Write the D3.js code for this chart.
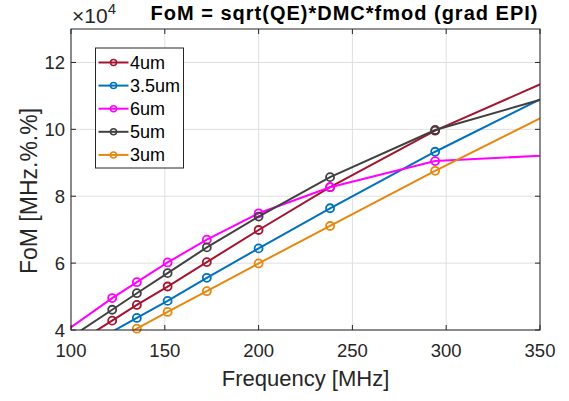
<!DOCTYPE html>
<html lang="en">
<head>
    <meta charset="UTF-8">
    <title>FoM vs Frequency</title>
    <style>
        body { margin: 0; background: #fff; }
        text { font-family: "Liberation Sans", Arial, sans-serif; fill: #262626; }
    </style>
</head>
<body>
<script src="https://d3js.org/d3.v7.min.js"></script>
<script>
    // frequencies in MHz (values in units of 1e4)
    var freq = [90.9, 121.95, 135.1, 151.5, 172.4, 200, 238.1, 294.1, 384.6];
    var fom4um = [3.18, 4.28, 4.75, 5.30, 6.03, 6.99, 8.27, 9.96, 12.2];
    var fom35um = [null, 3.95, 4.36, 4.87, 5.56, 6.44, 7.64, 9.33, 11.87];
    var fom6um = [3.72, 4.955, 5.43, 6.02, 6.70, 7.49, 8.27, 9.05, 9.31];
    var fom5um = [3.45, 4.606, 5.10, 5.70, 6.47, 7.39, 8.57, 9.98, 11.44];
    var fom3um = [null, 3.64, 4.04, 4.54, 5.16, 5.99, 7.11, 8.76, 11.30];
    var seriesNames = ["4um", "3.5um", "6um", "5um", "3um"];
    var xTicks = [100, 150, 200, 250, 300, 350];
    var yTicks = [4, 6, 8, 10, 12];

    var seriesValues = [fom4um, fom35um, fom6um, fom5um, fom3um];
    var colors = ["#A2142F", "#0072BD", "#FF00FF", "#404040", "#E6870F"];

    var width = 569, height = 401;
    // plot area (named to avoid window.top)
    var pLeft = 71, pRight = 540, pTop = 29, pBottom = 330;

    var x = d3.scaleLinear().domain([100, 350]).range([pLeft, pRight]);
    var y = d3.scaleLinear().domain([4, 13]).range([pBottom, pTop]);

    var svg = d3.select("body")
        .append("svg")
        .attr("width", width)
        .attr("height", height);

    svg.append("defs").append("clipPath")
        .attr("id", "plotclip")
        .append("rect")
        .attr("x", pLeft).attr("y", pTop)
        .attr("width", pRight - pLeft).attr("height", pBottom - pTop);

    // grid
    svg.append("g").selectAll("line").data(xTicks).enter().append("line")
        .attr("x1", d => x(d)).attr("x2", d => x(d))
        .attr("y1", pTop).attr("y2", pBottom)
        .attr("stroke", "#dfdfdf").attr("stroke-width", 1);
    svg.append("g").selectAll("line").data(yTicks).enter().append("line")
        .attr("x1", pLeft).attr("x2", pRight)
        .attr("y1", d => y(d)).attr("y2", d => y(d))
        .attr("stroke", "#dfdfdf").attr("stroke-width", 1);

    // series
    var line = d3.line()
        .defined(d => d.v !== null)
        .x(d => x(d.f))
        .y(d => y(d.v));

    seriesValues.forEach(function (vals, i) {
        var pts = freq.map((f, j) => ({f: f, v: vals[j]}));
        var g = svg.append("g");
        g.append("path")
            .datum(pts)
            .attr("clip-path", "url(#plotclip)")
            .attr("d", line)
            .attr("fill", "none")
            .attr("stroke", colors[i])
            .attr("stroke-width", 2);
        g.selectAll("circle")
            .data(pts.filter(d => d.v !== null && d.v >= 4 && d.v <= 13 && d.f >= 100 && d.f <= 350))
            .enter().append("circle")
            .attr("cx", d => x(d.f))
            .attr("cy", d => y(d.v))
            .attr("r", 4)
            .attr("fill", "none")
            .attr("stroke", colors[i])
            .attr("stroke-width", 1.8);
    });

    // axes box and ticks
    var axisColor = "#262626";
    svg.append("rect")
        .attr("x", pLeft).attr("y", pTop)
        .attr("width", pRight - pLeft).attr("height", pBottom - pTop)
        .attr("fill", "none").attr("stroke", axisColor).attr("stroke-width", 1);

    var tl = 5;
    var tg = svg.append("g").attr("stroke", axisColor).attr("stroke-width", 1);
    xTicks.forEach(function (t) {
        tg.append("line").attr("x1", x(t)).attr("x2", x(t)).attr("y1", pBottom).attr("y2", pBottom - tl);
        tg.append("line").attr("x1", x(t)).attr("x2", x(t)).attr("y1", pTop).attr("y2", pTop + tl);
    });
    yTicks.forEach(function (t) {
        tg.append("line").attr("x1", pLeft).attr("x2", pLeft + tl).attr("y1", y(t)).attr("y2", y(t));
        tg.append("line").attr("x1", pRight).attr("x2", pRight - tl).attr("y1", y(t)).attr("y2", y(t));
    });

    svg.append("g").selectAll("text").data(xTicks).enter().append("text")
        .attr("x", d => x(d)).attr("y", 357)
        .attr("text-anchor", "middle")
        .style("font-size", "18.5px")
        .text(d => d);
    svg.append("g").selectAll("text").data(yTicks).enter().append("text")
        .attr("x", 65).attr("y", d => y(d) + 6.5)
        .attr("text-anchor", "end")
        .style("font-size", "18.5px")
        .text(d => d);

    // exponent
    var ex = svg.append("text").attr("x", 72).attr("y", 23).style("font-size", "21px");
    ex.append("tspan").text("\u00d710");
    ex.append("tspan").attr("dy", -9).style("font-size", "15px").text("4");

    // labels
    svg.append("text")
        .attr("x", (pLeft + pRight) / 2).attr("y", 386)
        .attr("text-anchor", "middle")
        .style("font-size", "22px")
        .text("Frequency [MHz]");
    svg.append("text")
        .attr("transform", "translate(37,191) rotate(-90)")
        .attr("text-anchor", "middle")
        .style("font-size", "23px")
        .text("FoM [MHz.%.%]");
    svg.append("text")
        .attr("x", 344.5).attr("y", 20)
        .attr("text-anchor", "middle")
        .style("font-size", "20px")
        .style("font-weight", "bold")
        .style("letter-spacing", "1px")
        .style("fill", "#000")
        .text("FoM = sqrt(QE)*DMC*fmod (grad EPI)");

    // legend
    var lg = svg.append("g");
    lg.append("rect")
        .attr("x", 95.5).attr("y", 48)
        .attr("width", 88).attr("height", 120)
        .attr("fill", "#fff").attr("stroke", axisColor).attr("stroke-width", 1);
    seriesNames.forEach(function (name, i) {
        var yy = 62.5 + i * 23.1;
        lg.append("line").attr("x1", 98.5).attr("x2", 128.5).attr("y1", yy).attr("y2", yy)
            .attr("stroke", colors[i]).attr("stroke-width", 2);
        lg.append("circle").attr("cx", 113.5).attr("cy", yy).attr("r", 3)
            .attr("fill", "none").attr("stroke", colors[i]).attr("stroke-width", 1.5);
        lg.append("text").attr("x", 130).attr("y", yy + 6.5)
            .style("font-size", "18px").style("fill", "#000")
            .text(name);
    });
</script>
</body>
</html>
